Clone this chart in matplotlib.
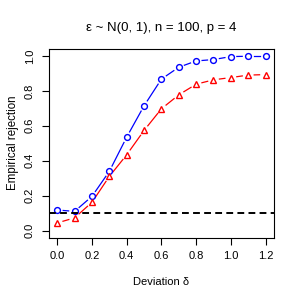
import numpy as np
import matplotlib
matplotlib.use("Agg")
import matplotlib.pyplot as plt

plt.rcParams['font.family'] = ['Liberation Sans', 'DejaVu Sans']

delta = [0.0, 0.1, 0.2, 0.3, 0.4, 0.5, 0.6, 0.7, 0.8, 0.9, 1.0, 1.1, 1.2]
rej_blue = [0.118, 0.110, 0.196, 0.339, 0.535, 0.714, 0.867, 0.935, 0.971, 0.979, 0.996, 0.998, 0.998]
rej_red = [0.044, 0.073, 0.162, 0.310, 0.434, 0.573, 0.697, 0.777, 0.838, 0.863, 0.876, 0.890, 0.893]
alpha = 0.1

fig = plt.figure(figsize=(3, 3), dpi=100)
ax = fig.add_axes([0.163, 0.208, 0.75, 0.629])
ax.set_xlim(-0.048, 1.248)
ax.set_ylim(-0.04, 1.04)


def gapped_line(x, y, color, gap=6.0):
    # R type="b": segments stop short of the points
    pts = ax.transData.transform(np.column_stack([x, y]))
    inv = ax.transData.inverted()
    for p0, p1 in zip(pts[:-1], pts[1:]):
        d = p1 - p0
        n = np.hypot(*d)
        if n <= 2 * gap:
            continue
        u = d / n
        a, b = inv.transform([p0 + u * gap, p1 - u * gap])
        ax.plot([a[0], b[0]], [a[1], b[1]], color=color, lw=0.9)


gapped_line(delta, rej_blue, 'blue')
gapped_line(delta, rej_red, 'red')
ax.plot(delta, rej_blue, ls='none', color='blue', marker='o', ms=4.2, mfc='none', mew=1.0)
ax.plot(delta, rej_red, ls='none', color='red', marker='^', ms=5, mfc='none', mew=1.0)
ax.axhline(alpha, color='black', lw=1.4, ls=(0, (3.5, 2.2)))

ax.set_xticks(np.arange(0, 1.21, 0.2))
ax.set_yticks(np.arange(0, 1.01, 0.2))
ax.set_xticklabels(['%.1f' % v for v in np.arange(0, 1.21, 0.2)])
ax.set_yticklabels(['%.1f' % v for v in np.arange(0, 1.01, 0.2)], rotation=90, va='center')
ax.tick_params(direction='out', length=5, width=0.8, labelsize=8, pad=5)
for s in ax.spines.values():
    s.set_linewidth(0.8)

ax.set_xlabel('Deviation δ', fontsize=8, labelpad=11)
ax.set_ylabel('Empirical rejection', fontsize=8.3, labelpad=4)
ax.set_title('ε ~ N(0, 1), n = 100, p = 4', fontsize=9.5, pad=13)

fig.savefig('out.png', dpi=100)
